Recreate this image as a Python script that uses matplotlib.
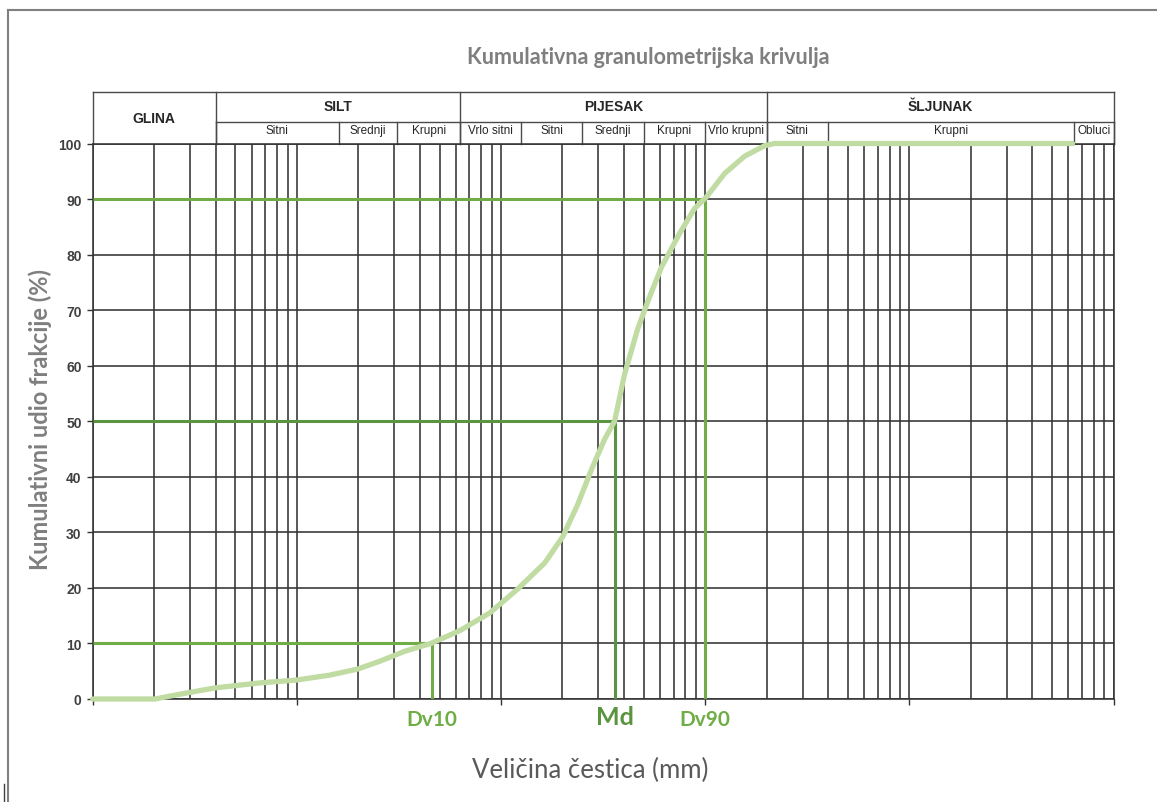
import matplotlib
matplotlib.use('Agg')
import matplotlib.pyplot as plt
from matplotlib.ticker import LogLocator, NullFormatter
from matplotlib.lines import Line2D

# ---------------- data ----------------
size_mm = [0.001, 0.00202, 0.00253, 0.00397, 0.00659, 0.00989, 0.0145, 0.0199,
           0.0255, 0.0338, 0.0453, 0.0628, 0.0881, 0.1207, 0.1637, 0.2005,
           0.2374, 0.278, 0.322, 0.360, 0.403, 0.467, 0.534, 0.612, 0.749,
           0.887, 1.016, 1.245, 1.559, 1.953, 2.186, 63]
cum_pct = [0, 0, 0.7, 2.0, 2.9, 3.4, 4.3, 5.4,
           6.8, 8.6, 10, 12.3, 15.5, 19.8, 24.5, 29.2,
           35, 41.4, 46.8, 50, 58.5, 66.6, 72.4, 77.8, 83.8,
           88.3, 90.4, 94.6, 97.7, 99.6, 100, 100]

marker_names = ['Dv10', 'Md', 'Dv90']
marker_pct = [10, 50, 90]
marker_size = [0.046, 0.36, 1.0]

main_classes = ['GLINA', 'SILT', 'PIJESAK', 'ŠLJUNAK']
main_bounds = [0.001, 0.004, 0.063, 2, 100]
sub_classes = ['Sitni', 'Srednji', 'Krupni', 'Vrlo sitni', 'Sitni', 'Srednji',
               'Krupni', 'Vrlo krupni', 'Sitni', 'Krupni', 'Obluci']
sub_bounds = [0.004, 0.016, 0.031, 0.063, 0.125, 0.25, 0.5, 1, 2, 4, 64, 100]

y_ticks = list(range(0, 101, 10))

title = 'Kumulativna granulometrijska krivulja'
xlabel = 'Veličina čestica (mm)'
ylabel = 'Kumulativni udio frakcije (%)'

# ---------------- style ----------------
W, H = 1157, 803
fig = plt.figure(figsize=(W / 100, H / 100), dpi=100)
fig.patch.set_facecolor('white')

L, R, T, B = 92.7, 1113.5, 144.5, 700
ax = fig.add_axes([L / W, 1 - B / H, (R - L) / W, (B - T) / H])
ax.set_xscale('log')
ax.set_xlim(0.001, 100)
ax.set_ylim(0, 100)

grid_c = '#333333'
green = '#70ad47'
dark_green = '#5a9440'
curve_c = '#c0dca3'
gray_txt = '#7f7f7f'

ax.xaxis.set_major_locator(LogLocator(base=10))
ax.xaxis.set_minor_locator(LogLocator(base=10, subs=range(2, 10)))
ax.xaxis.set_major_formatter(NullFormatter())
ax.xaxis.set_minor_formatter(NullFormatter())
ax.set_yticks(y_ticks)
ax.grid(which='major', axis='both', color=grid_c, lw=1.15)
ax.grid(which='minor', axis='x', color=grid_c, lw=1.15)
ax.set_axisbelow(True)
ax.tick_params(axis='x', which='major', direction='out', length=4, width=1, color=grid_c)
ax.tick_params(axis='x', which='minor', length=0)
ax.tick_params(axis='y', direction='out', length=4, width=1, color=grid_c,
               labelsize=10, labelcolor='#404040', pad=4)
for lab in ax.get_yticklabels():
    lab.set_fontfamily('Liberation Sans')
    lab.set_fontweight('bold')
for s in ax.spines.values():
    s.set_color(grid_c)
    s.set_linewidth(1.15)

# reference lines
for name, p, d in zip(marker_names, marker_pct, marker_size):
    c = dark_green if name == 'Md' else green
    ax.plot([0.001, d], [p, p], color=c, lw=2.2, solid_capstyle='butt', zorder=3)
    ax.plot([d, d], [0, p], color=c, lw=2.2, solid_capstyle='butt', zorder=3)

# curve
ax.plot(size_mm, cum_pct, color=curve_c, lw=3.8, solid_joinstyle='round',
        solid_capstyle='round', zorder=4, clip_on=False)

# marker labels
lab_fs = {'Dv10': 15, 'Md': 18, 'Dv90': 15}
lab_y = {'Dv10': -3.6, 'Md': -3.2, 'Dv90': -3.6}
for name, d in zip(marker_names, marker_size):
    c = dark_green if name == 'Md' else green
    ax.text(d, lab_y[name], name, ha='center', va='center', color=c,
            fontsize=lab_fs[name], fontweight='bold', family='Lato')

# header table
trans = ax.get_xaxis_transform()
y_top = (B - 93) / (B - T)
y_mid = (B - 122.5) / (B - T)
hc = '#4a4a4a'
hlw = 1.0
ax.plot([main_bounds[0], main_bounds[-1]], [y_top, y_top], transform=trans,
        color=hc, lw=hlw, clip_on=False)
ax.plot([main_bounds[1], main_bounds[-1]], [y_mid, y_mid], transform=trans,
        color=hc, lw=hlw, clip_on=False)
for b in main_bounds:
    ax.plot([b, b], [1, y_top], transform=trans, color=hc, lw=hlw, clip_on=False)
for b in sub_bounds:
    ax.plot([b, b], [1, y_mid], transform=trans, color=hc, lw=hlw, clip_on=False)
for i, name in enumerate(main_classes):
    xc = (main_bounds[i] * main_bounds[i + 1]) ** 0.5
    yc = (1 + y_top) / 2 if i == 0 else (y_mid + y_top) / 2 + 0.002
    ax.text(xc, yc, name, transform=trans, ha='center', va='center',
            fontsize=10, fontweight='bold', family='Liberation Sans', color='#262626')
for i, name in enumerate(sub_classes):
    xc = (sub_bounds[i] * sub_bounds[i + 1]) ** 0.5
    ax.text(xc, (1 + y_mid) / 2 + 0.004, name, transform=trans, ha='center', va='center',
            fontsize=8.5, family='Liberation Sans', color='#262626')

# titles
fig.text(648 / W, 1 - 58 / H, title, ha='center', va='center', fontsize=15.5,
         fontweight='bold', family='Lato', color=gray_txt)
fig.text(590 / W, 1 - 770 / H, xlabel, ha='center', va='center', fontsize=18.5,
         family='Lato', color='#595959')
fig.text(40 / W, 1 - 420 / H, ylabel, ha='center', va='center', rotation=90,
         fontsize=17, fontweight='bold', family='Lato', color=gray_txt)

# outer frame
fc = '#808080'
fig.add_artist(Line2D([8 / W, 1], [1 - 11 / H, 1 - 11 / H], color=fc, lw=1.5,
                      transform=fig.transFigure))
fig.add_artist(Line2D([8 / W, 8 / W], [0, 1 - 11 / H], color=fc, lw=1.5,
                      transform=fig.transFigure))
fig.add_artist(Line2D([4 / W, 4 / W], [0, 18 / H], color='#404040', lw=1,
                      transform=fig.transFigure))

fig.savefig('out.png', dpi=100)
